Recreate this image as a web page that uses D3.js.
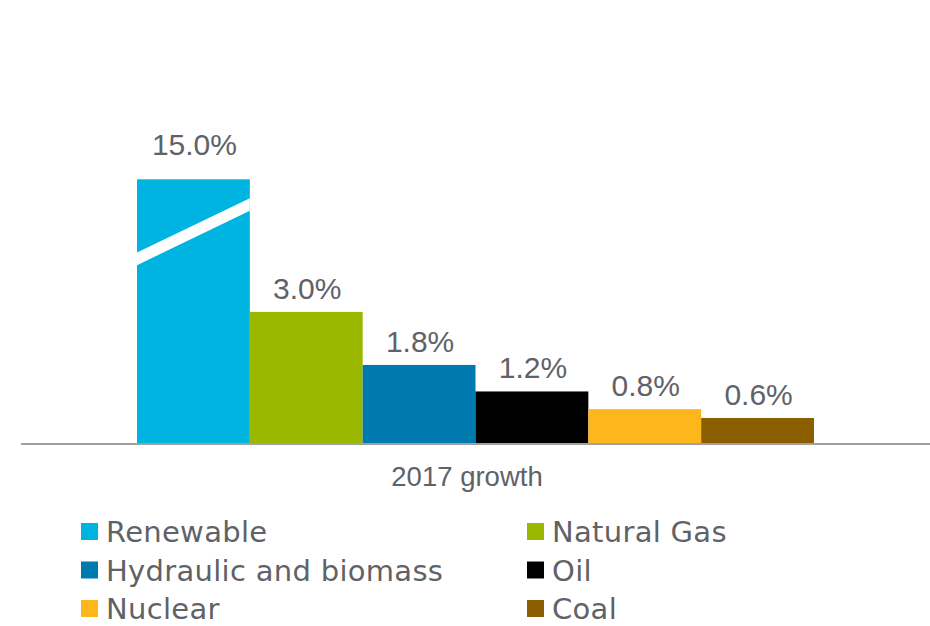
<!DOCTYPE html>
<html>
<head>
<meta charset="utf-8">
<script src="https://cdn.jsdelivr.net/npm/d3@7"></script>
<style>
  html, body { margin: 0; padding: 0; background: #fff; }
  svg { display: block; }
</style>
</head>
<body>
<div id="chart"></div>
<script>
'use strict';

var categories = ['Renewable', 'Natural Gas', 'Hydraulic and biomass', 'Oil', 'Nuclear', 'Coal'];
var growth = [15.0, 3.0, 1.8, 1.2, 0.8, 0.6];
var colors = ['#00b4e1', '#9bb800', '#0079ae', '#000000', '#fdb61c', '#8b5e00'];
var axisLabel = '2017 growth';

var width = 930, height = 626;
var textColor = '#5f6267';

var svg = d3.select('#chart').append('svg')
  .attr('width', width)
  .attr('height', height);

var x = d3.scaleBand()
  .domain(categories)
  .range([137, 814])
  .padding(0);

// value axis is cut: anything above 6% is clamped and drawn with a break
var y = d3.scaleLinear()
  .domain([0, 6])
  .range([444.5, 179.3])
  .clamp(true);

var fmt = d3.format('.1f');

var data = categories.map(function(c, i) {
  return { name: c, value: growth[i], color: colors[i], broken: growth[i] > y.domain()[1] };
});

// bars
svg.selectAll('.bar')
  .data(data)
  .enter()
  .append('rect')
  .attr('class', 'bar')
  .attr('x', function(d) { return x(d.name); })
  .attr('y', function(d) { return y(d.value); })
  .attr('width', x.bandwidth())
  .attr('height', function(d) { return y(0) - 1.5 - y(d.value); })
  .attr('fill', function(d) { return d.color; });

// break mark across clamped bars
data.filter(function(d) { return d.broken; }).forEach(function(d) {
  var x0 = x(d.name), x1 = x0 + x.bandwidth();
  var yl = y(4.2), yr = y(5.43), half = 6.3;
  svg.append('polygon')
    .attr('points', [
      [x0, yl - half], [x1, yr - half], [x1, yr + half], [x0, yl + half]
    ].map(function(p) { return p.join(','); }).join(' '))
    .attr('fill', '#fff');
});

// value labels
svg.selectAll('.value')
  .data(data)
  .enter()
  .append('text')
  .attr('class', 'value')
  .attr('x', function(d) { return x(d.name) + x.bandwidth() / 2 + 1; })
  .attr('y', function(d) { return y(d.value) - (d.broken ? 24 : 13); })
  .attr('text-anchor', 'middle')
  .attr('font-family', 'Liberation Sans, Arial, sans-serif')
  .attr('font-size', 30)
  .attr('fill', textColor)
  .text(function(d) { return fmt(d.value) + '%'; });

// baseline
svg.append('line')
  .attr('x1', 21)
  .attr('x2', width)
  .attr('y1', y(0) - 0.5)
  .attr('y2', y(0) - 0.5)
  .attr('stroke', '#a0a0a0')
  .attr('stroke-width', 2);

svg.append('text')
  .attr('x', 467)
  .attr('y', 486)
  .attr('text-anchor', 'middle')
  .attr('font-family', 'Liberation Sans, Arial, sans-serif')
  .attr('font-size', 27.5)
  .attr('fill', textColor)
  .text(axisLabel);

// legend, two columns
var legend = svg.selectAll('.legend')
  .data(data)
  .enter()
  .append('g')
  .attr('class', 'legend')
  .attr('transform', function(d, i) {
    return 'translate(' + (i % 2 === 0 ? 81 : 527) + ',' + (523 + Math.floor(i / 2) * 38.5) + ')';
  });

legend.append('rect')
  .attr('width', 17)
  .attr('height', 17)
  .attr('fill', function(d) { return d.color; });

legend.append('text')
  .attr('x', 25)
  .attr('y', 19)
  .attr('font-family', 'DejaVu Sans, Verdana, sans-serif')
  .attr('font-size', 29)
  .attr('letter-spacing', 0.3)
  .attr('fill', textColor)
  .text(function(d) { return d.name; });
</script>
</body>
</html>
